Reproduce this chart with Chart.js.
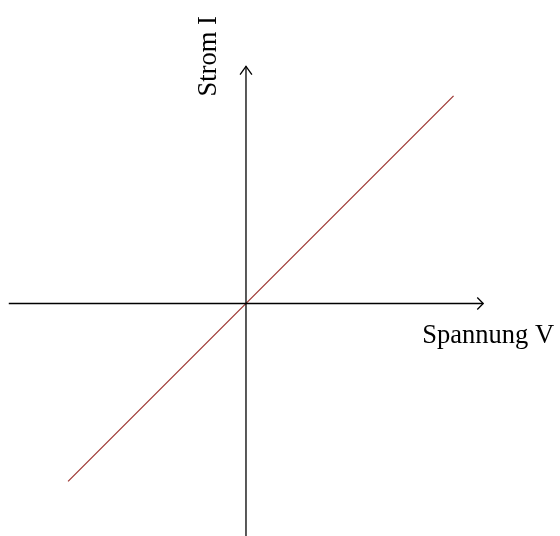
<!DOCTYPE html>
<html>
<head>
<meta charset="utf-8">
<script src="https://cdn.jsdelivr.net/npm/chart.js@4/dist/chart.umd.min.js"></script>
<style>
  html, body { margin: 0; padding: 0; background: #fff; }
  #chart { display: block; }
</style>
</head>
<body>
<canvas id="chart" width="560" height="536"></canvas>
<script>
  // axes run from -4 to 4 in both directions
  var axisX = [-4, 4];
  var axisY = [-4, 4];
  // characteristic line I = V
  var spannung = [-3, 3.5];
  var strom = [-3, 3.5];
  var xLabel = "Spannung V";
  var yLabel = "Strom I";

  var arrow = 0.1; // arrow head size in axis units

  function pts(xs, ys){
    var out = [];
    for (var i = 0; i < xs.length; i++) out.push({x: xs[i], y: ys[i]});
    return out;
  }

  var xEnd = axisX[1], yEnd = axisY[1];
  var axisStyle = { borderColor: "#000", borderWidth: 1.3, pointRadius: 0, showLine: true, fill: false, tension: 0 };

  var datasets = [
    Object.assign({ data: pts(axisX, [0, 0]) }, axisStyle),
    Object.assign({ data: pts([0, 0], axisY) }, axisStyle),
    // arrow heads
    Object.assign({ data: pts([xEnd - arrow, xEnd, xEnd - arrow], [arrow, 0, -arrow]) }, axisStyle),
    Object.assign({ data: pts([-arrow, 0, arrow], [yEnd - arrow * 1.4, yEnd, yEnd - arrow * 1.4]) }, axisStyle),
    { data: pts(spannung, strom), borderColor: "#9c332e", borderWidth: 1.2, pointRadius: 0, showLine: true, fill: false }
  ];

  var labels = {
    id: "labels",
    afterDraw: function(chart){
      var ctx = chart.ctx;
      var sx = chart.scales.x, sy = chart.scales.y;
      ctx.save();
      ctx.fillStyle = "#000";
      ctx.font = "26.5px 'Liberation Serif'";
      ctx.textAlign = "center";
      ctx.textBaseline = "alphabetic";
      ctx.fillText(xLabel, sx.getPixelForValue(xEnd) + 5, sy.getPixelForValue(0) + 40);
      ctx.translate(sx.getPixelForValue(0) - 30, sy.getPixelForValue(yEnd) - 10);
      ctx.rotate(-Math.PI / 2);
      ctx.fillText(yLabel, 0, 0);
      ctx.restore();
    }
  };

  var chart = new Chart(document.getElementById("chart").getContext("2d"), {
    type: "scatter",
    data: { datasets: datasets },
    options: {
      responsive: false,
      animation: false,
      layout: { padding: 0 },
      plugins: { legend: { display: false }, tooltip: { enabled: false } },
      scales: {
        x: { type: "linear", display: false, min: -4.148, max: 5.295 },
        y: { type: "linear", display: false, min: -3.921, max: 5.118 }
      }
    },
    plugins: [labels]
  });
</script>
</body>
</html>
